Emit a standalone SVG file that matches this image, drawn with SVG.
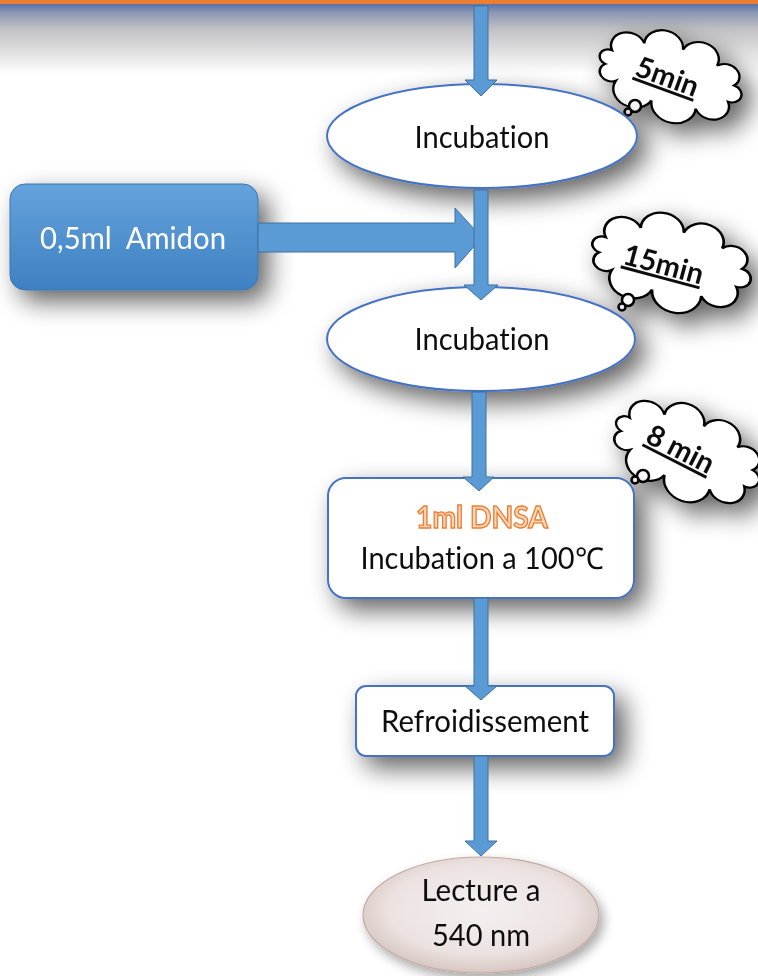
<svg xmlns="http://www.w3.org/2000/svg" width="758" height="976" viewBox="0 0 758 976">
  <defs>
    <style>
      .lbl { font-family: Lato, "Open Sans", "Liberation Sans", sans-serif; font-size: 30px; fill: #111; text-anchor: middle; white-space: pre; font-variant-ligatures: none; }
      .node { fill: #ffffff; stroke: #4472c4; stroke-width: 2; }
      .arrow { fill: #5b9bd5; stroke: #41719c; stroke-width: 1; }
      .cloud { fill: #ffffff; stroke: #000; stroke-width: 2.5; }
      .ctext { font-family: Lato, "Open Sans", "Liberation Sans", sans-serif; font-size: 29px; font-weight: bold; fill: #111; text-anchor: middle; text-decoration: underline; }
    </style>
    <linearGradient id="topBand" x1="0" y1="0" x2="0" y2="1">
      <stop offset="0" stop-color="#5a72aa"/>
      <stop offset="0.12" stop-color="#8a96b4"/>
      <stop offset="0.35" stop-color="#c0c0c2"/>
      <stop offset="1" stop-color="#ffffff"/>
    </linearGradient>
    <linearGradient id="blueBox" x1="0" y1="0" x2="0" y2="1">
      <stop offset="0" stop-color="#64a3dc"/>
      <stop offset="1" stop-color="#3f80c2"/>
    </linearGradient>
    <radialGradient id="pearl" cx="0.5" cy="0.45" r="0.55">
      <stop offset="0" stop-color="#f4f0ef"/>
      <stop offset="0.7" stop-color="#ece3e1"/>
      <stop offset="1" stop-color="#d6c6c2"/>
    </radialGradient>
    <filter id="shadow" x="-30%" y="-40%" width="170%" height="200%">
      <feGaussianBlur in="SourceAlpha" stdDeviation="13"/>
      <feOffset dx="10" dy="11" result="b"/>
      <feComponentTransfer><feFuncA type="linear" slope="0.62"/></feComponentTransfer>
      <feMerge><feMergeNode/><feMergeNode in="SourceGraphic"/></feMerge>
    </filter>
    <filter id="shadowSoft" x="-30%" y="-40%" width="170%" height="200%">
      <feGaussianBlur in="SourceAlpha" stdDeviation="6"/>
      <feOffset dx="4" dy="6" result="b"/>
      <feComponentTransfer><feFuncA type="linear" slope="0.35"/></feComponentTransfer>
      <feMerge><feMergeNode/><feMergeNode in="SourceGraphic"/></feMerge>
    </filter>
    <!-- scalloped thought-cloud outline, centred on the origin -->
    <path id="cloudShape" d="M -63.9,-12.3 A 17 17 0 0 1 -34,-31.2 A 20 20 0 0 1 5.9,-35.9 A 19 19 0 0 1 43.7,-27.6 A 14 14 0 0 1 65.7,-9.3 A 10 10 0 0 1 63.9,12.3 A 17 17 0 0 1 34,31.2 A 23 23 0 0 1 -11.8,35.5 A 21 21 0 0 1 -52.1,23.1 A 11 11 0 0 1 -67,6.25 A 9 9 0 0 1 -63.9,-12.3 Z"/>
  </defs>

  <!-- page background and top banner -->
  <rect x="0" y="0" width="758" height="976" fill="#ffffff"/>
  <rect x="0" y="4" width="758" height="70" fill="url(#topBand)"/>
  <rect x="0" y="0" width="758" height="4" fill="#ed7d31"/>

  <!-- timing clouds -->
  <g id="cloud-5min" filter="url(#shadow)">
    <use href="#cloudShape" class="cloud" vector-effect="non-scaling-stroke" transform="translate(670,76) rotate(15) scale(0.98,0.8)"/>
    <circle cx="635" cy="106" r="6" class="cloud" stroke-width="2"/>
    <circle cx="628" cy="112" r="3.5" class="cloud" stroke-width="2"/>
    <text class="ctext" transform="translate(664,86) rotate(20)">5min</text>
  </g>
  <g id="cloud-15min" filter="url(#shadow)">
    <use href="#cloudShape" class="cloud" vector-effect="non-scaling-stroke" transform="translate(671,262) rotate(12) scale(1.08,0.87)"/>
    <circle cx="628" cy="300" r="6" class="cloud" stroke-width="2"/>
    <circle cx="622" cy="307" r="3.5" class="cloud" stroke-width="2"/>
    <text class="ctext" transform="translate(661,274) rotate(15)">15min</text>
  </g>
  <g id="cloud-8min" filter="url(#shadow)">
    <use href="#cloudShape" class="cloud" vector-effect="non-scaling-stroke" transform="translate(687,452) rotate(22) scale(1.03,0.84)"/>
    <circle cx="643" cy="476" r="6" class="cloud" stroke-width="2"/>
    <circle cx="635" cy="480" r="3.5" class="cloud" stroke-width="2"/>
    <text class="ctext" transform="translate(676,458) rotate(27)">8 min</text>
  </g>

  <!-- process nodes -->
  <g id="amidon" filter="url(#shadow)">
    <rect x="10" y="184" width="248" height="106" rx="15" fill="url(#blueBox)" stroke="#3a74ae" stroke-width="1"/>
    <text class="lbl" x="133" y="249" style="fill:#ffffff" textLength="186" lengthAdjust="spacingAndGlyphs">0,5ml  Amidon</text>
  </g>

  <g id="incubation-1" filter="url(#shadow)">
    <ellipse cx="482" cy="136" rx="155" ry="52" class="node"/>
    <text class="lbl" x="482" y="148" textLength="135" lengthAdjust="spacingAndGlyphs">Incubation</text>
  </g>

  <g id="incubation-2" filter="url(#shadow)">
    <ellipse cx="481" cy="339" rx="154" ry="52" class="node"/>
    <text class="lbl" x="482" y="350" textLength="135" lengthAdjust="spacingAndGlyphs">Incubation</text>
  </g>

  <g id="dnsa" filter="url(#shadow)">
    <rect x="328" y="478" width="306" height="120" rx="18" class="node"/>
    <text class="lbl" x="482" y="528" style="fill:#fcd9bd;stroke:#ed7d31;stroke-width:1.4;font-weight:bold" textLength="132" lengthAdjust="spacingAndGlyphs">1ml DNSA</text>
    <text class="lbl" x="482" y="569" textLength="243" lengthAdjust="spacingAndGlyphs">Incubation a 100℃</text>
  </g>

  <g id="refroidissement" filter="url(#shadow)">
    <rect x="356" y="686" width="258" height="70" rx="10" class="node"/>
    <text class="lbl" x="485" y="732" textLength="208" lengthAdjust="spacingAndGlyphs">Refroidissement</text>
  </g>

  <g id="lecture" filter="url(#shadowSoft)">
    <ellipse cx="481" cy="915" rx="118" ry="58" fill="url(#pearl)" stroke="#c2aaa3" stroke-width="1.2"/>
    <text class="lbl" x="481" y="901" textLength="119" lengthAdjust="spacingAndGlyphs">Lecture a</text>
    <text class="lbl" x="481" y="946" textLength="98" lengthAdjust="spacingAndGlyphs">540 nm</text>
  </g>

  <!-- connectors -->
  <g id="connectors">
    <polygon class="arrow" points="474,6 488,6 488,80 497,80 481,96 465,80 474,80"/>
    <polygon class="arrow" points="258,223 455,223 455,208 482,237.5 455,268 455,252 258,252"/>
    <polygon class="arrow" points="474,190 488,190 488,285 498,285 481,300 464,285 474,285"/>
    <polygon class="arrow" points="472,392 486,392 486,477 494,477 479,491 463,477 472,477"/>
    <polygon class="arrow" points="474,598 488,598 488,686 497,686 481,700 465,686 474,686"/>
    <polygon class="arrow" points="474,756 488,756 488,841 497,841 481,856 465,841 474,841"/>
  </g>
</svg>
